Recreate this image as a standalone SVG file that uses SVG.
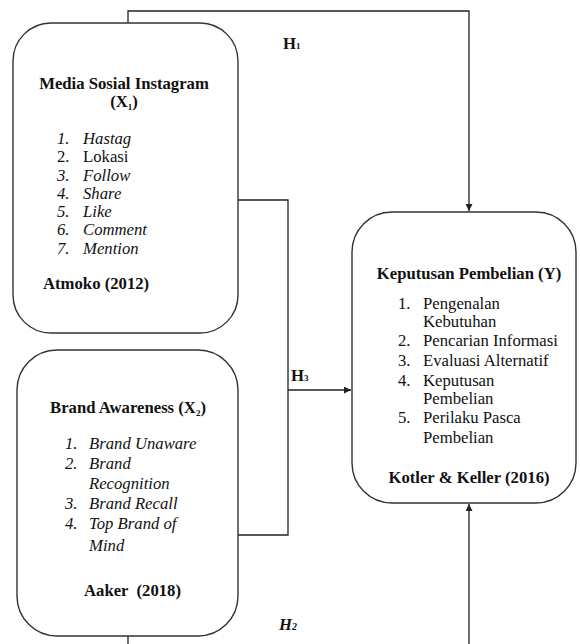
<svg xmlns="http://www.w3.org/2000/svg" width="580" height="644" viewBox="0 0 580 644">
<style>
.box{fill:#fff;stroke:#333;stroke-width:1.4}
.ln{fill:none;stroke:#222;stroke-width:1.3}
text{font-family:'Liberation Serif','DejaVu Serif',serif;font-size:16.7px;fill:#111}
.b{font-weight:bold}
.i{font-style:italic}
.t{text-anchor:middle}
</style>
<defs>
<marker id="ah" viewBox="0 0 10 10" refX="10" refY="5" markerWidth="7" markerHeight="7" markerUnits="userSpaceOnUse" orient="auto">
<path d="M0,0 L10,5 L0,10 z" fill="#222"/>
</marker>
</defs>
<g id="connectors">
<path class="ln" d="M128,23 V11 H469 V211" marker-end="url(#ah)"/>
<path class="ln" d="M238,200 H288 V535 H238"/>
<path class="ln" d="M288,390 H351" marker-end="url(#ah)"/>
<path class="ln" d="M128,636 V644"/>
<path class="ln" d="M469,644 V504" marker-end="url(#ah)"/>
<text class="b" x="283" y="49">H<tspan font-size="9">1</tspan></text>
<text class="b" x="291" y="381">H<tspan font-size="9">3</tspan></text>
<text class="b i" x="279" y="630">H<tspan font-size="10">2</tspan></text>
</g>
<g id="x1">
<rect class="box" x="13" y="23" width="225" height="310" rx="38"/>
<text class="b t" x="124" y="89">Media Sosial Instagram</text>
<text class="b t" x="124" y="107">(X<tspan font-size="9" dy="3">1</tspan><tspan dy="-3">)</tspan></text>
<text class="i" x="57" y="144">1.</text><text class="i" x="83" y="144">Hastag</text>
<text x="57" y="162">2.</text><text x="83" y="162">Lokasi</text>
<text class="i" x="57" y="181">3.</text><text class="i" x="83" y="181">Follow</text>
<text class="i" x="57" y="199">4.</text><text class="i" x="83" y="199">Share</text>
<text class="i" x="57" y="217">5.</text><text class="i" x="83" y="217">Like</text>
<text class="i" x="57" y="235">6.</text><text class="i" x="83" y="235">Comment</text>
<text class="i" x="57" y="254">7.</text><text class="i" x="83" y="254">Mention</text>
<text class="b" x="43" y="289">Atmoko (2012)</text>
</g>
<g id="x2">
<rect class="box" x="17" y="350" width="221" height="286" rx="40"/>
<text class="b t" x="128" y="413">Brand Awareness (X<tspan font-size="9" dy="3">2</tspan><tspan dy="-3">)</tspan></text>
<text class="i" x="65" y="449">1.</text><text class="i" x="89" y="449">Brand Unaware</text>
<text class="i" x="65" y="469">2.</text><text class="i" x="89" y="469">Brand</text>
<text class="i" x="89" y="489">Recognition</text>
<text class="i" x="65" y="509">3.</text><text class="i" x="89" y="509">Brand Recall</text>
<text class="i" x="65" y="529">4.</text><text class="i" x="89" y="529">Top Brand of</text>
<text class="i" x="89" y="551">Mind</text>
<text class="b" x="84" y="596" xml:space="preserve">Aaker  (2018)</text>
</g>
<g id="y">
<rect class="box" x="352" y="212" width="224" height="291" rx="40"/>
<text class="b t" x="469" y="279">Keputusan Pembelian (Y)</text>
<text x="398" y="309">1.</text><text x="423" y="309">Pengenalan</text>
<text x="423" y="327">Kebutuhan</text>
<text x="398" y="346">2.</text><text x="423" y="346">Pencarian Informasi</text>
<text x="398" y="366">3.</text><text x="423" y="366">Evaluasi Alternatif</text>
<text x="398" y="386">4.</text><text x="423" y="386">Keputusan</text>
<text x="423" y="404">Pembelian</text>
<text x="398" y="423">5.</text><text x="423" y="423">Perilaku Pasca</text>
<text x="423" y="443">Pembelian</text>
<text class="b t" x="469" y="483">Kotler &amp; Keller (2016)</text>
</g>
</svg>
